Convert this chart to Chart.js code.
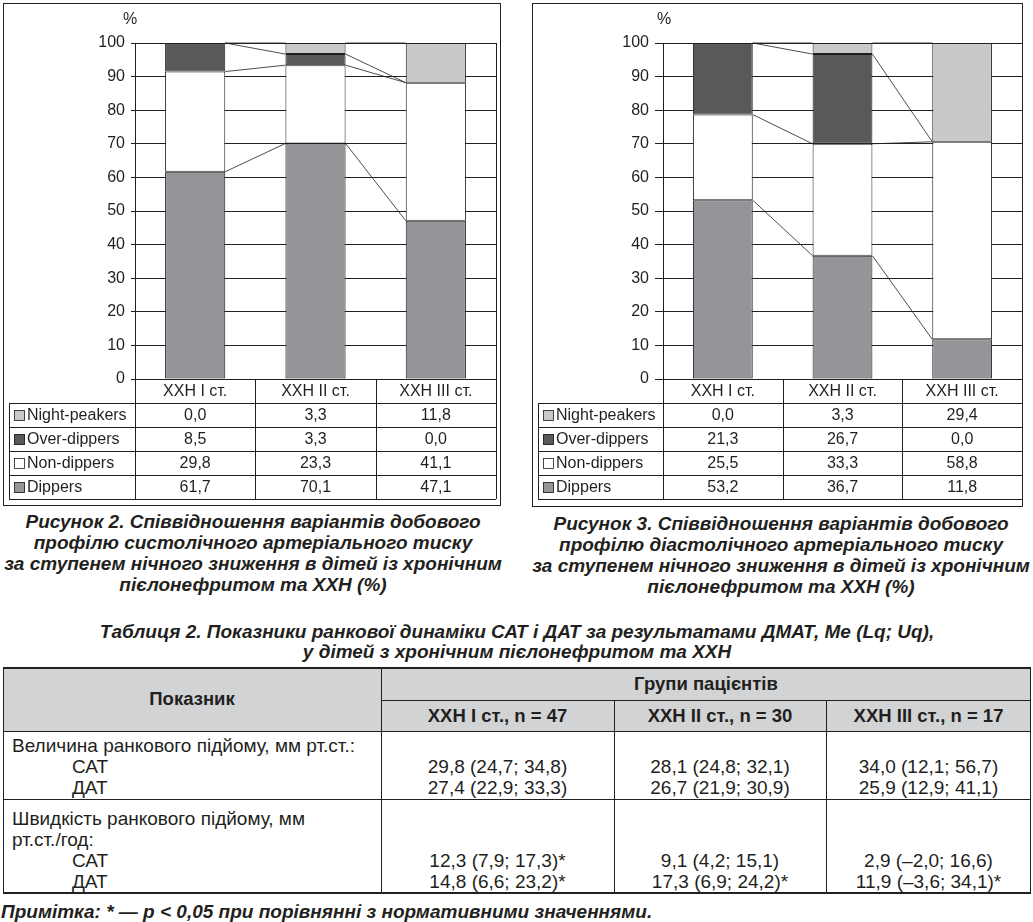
<!DOCTYPE html>
<html><head><meta charset="utf-8">
<script src="https://cdn.jsdelivr.net/npm/chart.js@4.4.0/dist/chart.umd.min.js"></script>
<style>
html,body{margin:0;padding:0;background:#fff;}
body{width:1033px;height:922px;position:relative;overflow:hidden;font-family:"Liberation Sans",Arial,sans-serif;color:#231f20;}
.frame{position:absolute;border:1.5px solid #231f20;box-sizing:border-box;}
canvas{position:absolute;}
.t{position:absolute;white-space:nowrap;line-height:1;}
.cap{font-weight:bold;font-style:italic;font-size:19px;}
.hd{font-weight:bold;font-size:18.5px;}
.bd{font-size:19px;}
.ln{position:absolute;background:#231f20;}
</style></head><body>
<div class="frame" style="left:3px;top:3px;width:498px;height:503px"></div>
<div class="frame" style="left:532px;top:3px;width:491px;height:504px"></div>
<div style="position:absolute;left:3px;top:668px;width:1028px;height:63px;background:#d1d3d4"></div>
<canvas id="c1" width="500" height="510" style="left:0;top:0"></canvas>
<canvas id="c2" width="513" height="510" style="left:520px;top:0"></canvas>
<script>
// ---------- data ----------
const categories = ['ХХН I ст.', 'ХХН II ст.', 'ХХН III ст.'];
const seriesNames = ['Dippers', 'Non-dippers', 'Over-dippers', 'Night-peakers'];
const seriesColors = ['#939598', '#ffffff', '#58595b', '#c8c9cb'];
const yTicks = [0, 10, 20, 30, 40, 50, 60, 70, 80, 90, 100];

// Figure 2 (systolic)
const sysDippers      = [61.7, 70.1, 47.1];
const sysNonDippers   = [29.8, 23.3, 41.1];
const sysOverDippers  = [8.5, 3.3, 0.0];
const sysNightPeakers = [0.0, 3.3, 11.8];
// Figure 3 (diastolic)
const diaDippers      = [53.2, 36.7, 11.8];
const diaNonDippers   = [25.5, 33.3, 58.8];
const diaOverDippers  = [21.3, 26.7, 0.0];
const diaNightPeakers = [0.0, 3.3, 29.4];

// Table 2
const tableGroups = ['ХХН I ст., n = 47', 'ХХН II ст., n = 30', 'ХХН III ст., n = 17'];
const riseAmpSAT  = ['29,8 (24,7; 34,8)', '28,1 (24,8; 32,1)', '34,0 (12,1; 56,7)'];
const riseAmpDAT  = ['27,4 (22,9; 33,3)', '26,7 (21,9; 30,9)', '25,9 (12,9; 41,1)'];
const riseRateSAT = ['12,3 (7,9; 17,3)*', '9,1 (4,2; 15,1)', '2,9 (–2,0; 16,6)'];
const riseRateDAT = ['14,8 (6,6; 23,2)*', '17,3 (6,9; 24,2)*', '11,9 (–3,6; 34,1)*'];

// ---------- helpers ----------
const INK = '#231f20';
const FONT = '"Liberation Sans", Arial, sans-serif';
function fmt(v){ return v.toFixed(1).replace('.', ','); }
function T(x, y, s, cls, al){
  const d = document.createElement('div');
  d.className = 't ' + cls; d.textContent = s;
  d.style.left = x + 'px'; d.style.top = y + 'px';
  d.style.transform = al === 'c' ? 'translate(-50%,-50%)' : 'translate(0,-50%)';
  document.body.appendChild(d);
}
function L(x, y, w, h){
  const d = document.createElement('div'); d.className = 'ln';
  d.style.left = x + 'px'; d.style.top = y + 'px'; d.style.width = w + 'px'; d.style.height = h + 'px';
  document.body.appendChild(d);
}

function makeChart(id, seriesArrays, opt){
  const tablePlugin = {
    id: 'dataTable',
    afterDatasetsDraw(chart){
      const ctx = chart.ctx;
      ctx.save(); ctx.strokeStyle = INK; ctx.lineWidth = 0.8;
      chart.data.datasets.forEach((ds, di) => {
        const meta = chart.getDatasetMeta(di);
        for (let i = 0; i < meta.data.length - 1; i++){
          const a = meta.data[i], b = meta.data[i + 1];
          ctx.beginPath();
          ctx.moveTo(a.x + a.width / 2, a.y);
          ctx.lineTo(b.x - b.width / 2, b.y);
          ctx.stroke();
        }
      });
      ctx.restore();
    },
    afterDraw(chart){
      const ctx = chart.ctx, ca = chart.chartArea, xs = chart.scales.x;
      const rowH = 24, t0 = ca.bottom + rowH, nRows = 4, bottom = t0 + nRows * rowH;
      const p = v => Math.round(v) + 0.5;
      ctx.save();
      ctx.strokeStyle = INK; ctx.lineWidth = 1;
      ctx.beginPath();
      for (let r = 0; r <= nRows; r++){
        ctx.moveTo(opt.tableLeft, p(t0 + r * rowH)); ctx.lineTo(ca.right, p(t0 + r * rowH));
      }
      ctx.moveTo(p(opt.tableLeft), t0); ctx.lineTo(p(opt.tableLeft), bottom);
      ctx.moveTo(p(ca.left), ca.bottom); ctx.lineTo(p(ca.left), bottom);
      ctx.moveTo(p(ca.right), ca.top); ctx.lineTo(p(ca.right), bottom);
      const n = chart.data.labels.length;
      for (let i = 0; i < n - 1; i++){
        const bx = (xs.getPixelForValue(i) + xs.getPixelForValue(i + 1)) / 2;
        ctx.moveTo(p(bx), ca.bottom); ctx.lineTo(p(bx), bottom);
      }
      ctx.stroke();
      // % label
      ctx.fillStyle = INK; ctx.font = '16px ' + FONT;
      ctx.textAlign = 'center'; ctx.textBaseline = 'middle';
      ctx.fillText('%', ca.left + opt.pctDx, ca.top - 23);
      // rows: top-to-bottom = reverse dataset order
      const ds = chart.data.datasets;
      for (let r = 0; r < nRows; r++){
        const di = ds.length - 1 - r;
        const cy = t0 + r * rowH + rowH / 2 + 0.5;
        const sx = opt.tableLeft + 5, sw = 11;
        ctx.fillStyle = ds[di].backgroundColor;
        ctx.fillRect(sx, Math.round(cy - sw / 2), sw, sw);
        ctx.lineWidth = 0.8; ctx.strokeStyle = INK;
        ctx.strokeRect(sx + 0.5, Math.round(cy - sw / 2) + 0.5, sw - 1, sw - 1);
        ctx.fillStyle = INK; ctx.textAlign = 'left';
        ctx.fillText(ds[di].label, sx + sw + 2, cy);
        ctx.textAlign = 'center';
        ds[di].data.forEach((v, i) => ctx.fillText(fmt(v), xs.getPixelForValue(i), cy));
      }
      ctx.restore();
    }
  };
  return new Chart(document.getElementById(id), {
    type: 'bar',
    data: {
      labels: categories,
      datasets: seriesArrays.map((arr, k) => ({
        label: seriesNames[k], data: arr, backgroundColor: seriesColors[k],
        borderColor: INK, borderWidth: 1, borderSkipped: false,
        categoryPercentage: 1, barPercentage: 0.5, stack: 's'
      }))
    },
    options: {
      responsive: false, animation: false,
      layout: { padding: { top: 43, right: opt.padRight, bottom: 0, left: 0 } },
      plugins: { legend: { display: false }, tooltip: { enabled: false } },
      scales: {
        x: {
          stacked: true,
          grid: { display: false, drawTicks: false },
          border: { display: false },
          ticks: { font: { size: 16, family: FONT }, color: INK, padding: 3, maxRotation: 0 },
          afterFit: s => { s.height = 131; }
        },
        y: {
          stacked: true, min: 0, max: 100,
          afterBuildTicks: s => { s.ticks = yTicks.map(v => ({ value: v })); },
          ticks: { font: { size: 16, family: FONT }, color: INK, padding: opt.tickPad },
          grid: { color: INK, lineWidth: 1, tickLength: opt.tickLen },
          border: { display: true, color: INK, width: 1 },
          afterFit: s => { s.width = opt.yWidth; }
        }
      }
    },
    plugins: [tablePlugin]
  });
}

makeChart('c1', [sysDippers, sysNonDippers, sysOverDippers, sysNightPeakers],
  { tableLeft: 9, padRight: 4, yWidth: 135, tickLen: 4, tickPad: 6, pctDx: -5 });
makeChart('c2', [diaDippers, diaNonDippers, diaOverDippers, diaNightPeakers],
  { tableLeft: 18, padRight: 11, yWidth: 143, tickLen: 8, tickPad: 6, pctDx: 1 });

// ---------- captions ----------
const cap2 = ['Рисунок 2. Співвідношення варіантів добового', 'профілю систолічного артеріального тиску',
  'за ступенем нічного зниження в дітей із хронічним', 'пієлонефритом та ХХН (%)'];
const cap3 = ['Рисунок 3. Співвідношення варіантів добового', 'профілю діастолічного артеріального тиску',
  'за ступенем нічного зниження в дітей із хронічним', 'пієлонефритом та ХХН (%)'];
cap2.forEach((s, i) => T(253, 521 + i * 21, s, 'cap', 'c'));
cap3.forEach((s, i) => T(781, 523 + i * 21, s, 'cap', 'c'));
T(517, 631, 'Таблиця 2. Показники ранкової динаміки САТ і ДАТ за результатами ДМАТ, Me (Lq; Uq),', 'cap', 'c');
T(517, 651, 'у дітей з хронічним пієлонефритом та ХХН', 'cap', 'c');

// ---------- table ----------
const colX = [3, 381, 614, 826, 1031];
L(3, 667, 1028, 2);          // top
L(381, 700, 650, 1);         // header split
L(3, 731, 1028, 1);          // header bottom
L(3, 799, 1028, 1);          // row sep
L(3, 892, 1028, 2);          // bottom
L(3, 667, 1, 227); L(381, 667, 1, 227); L(1030, 667, 1, 227);
L(614, 700, 1, 194); L(826, 700, 1, 194);
T(192, 699, 'Показник', 'hd', 'c');
T(706, 684, 'Групи пацієнтів', 'hd', 'c');
tableGroups.forEach((s, i) => T((colX[i + 1] + colX[i + 2]) / 2, 716, s, 'hd', 'c'));
T(12, 745, 'Величина ранкового підйому, мм рт.ст.:', 'bd', 'l');
T(72, 766, 'САТ', 'bd', 'l'); T(72, 787, 'ДАТ', 'bd', 'l');
riseAmpSAT.forEach((s, i) => T((colX[i + 1] + colX[i + 2]) / 2, 766, s, 'bd', 'c'));
riseAmpDAT.forEach((s, i) => T((colX[i + 1] + colX[i + 2]) / 2, 787, s, 'bd', 'c'));
T(12, 818, 'Швидкість ранкового підйому, мм', 'bd', 'l');
T(12, 839, 'рт.ст./год:', 'bd', 'l');
T(72, 860, 'САТ', 'bd', 'l'); T(72, 881, 'ДАТ', 'bd', 'l');
riseRateSAT.forEach((s, i) => T((colX[i + 1] + colX[i + 2]) / 2, 860, s, 'bd', 'c'));
riseRateDAT.forEach((s, i) => T((colX[i + 1] + colX[i + 2]) / 2, 881, s, 'bd', 'c'));
T(1, 911, 'Примітка: * — p < 0,05 при порівнянні з нормативними значеннями.', 'cap', 'l');
</script>
</body></html>
